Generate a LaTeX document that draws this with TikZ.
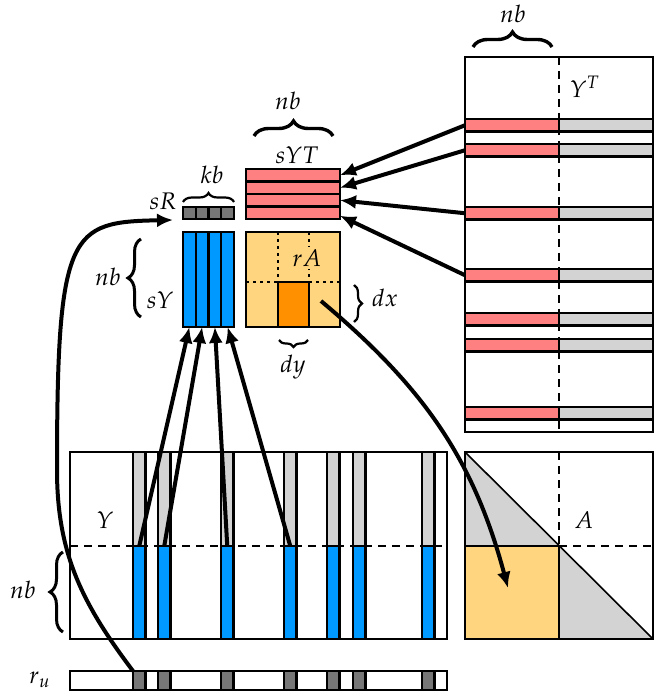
\documentclass[tikz,border=0pt]{standalone}
\usepackage{mathpazo}
\usetikzlibrary{arrows.meta,decorations.pathreplacing,fit,calc}
\definecolor{salmon}{RGB}{255,128,128}
\definecolor{lgray}{RGB}{211,211,211}
\definecolor{skyblue}{RGB}{0,153,255}
\definecolor{dgray}{RGB}{119,119,119}
\definecolor{lorange}{RGB}{255,213,128}
\definecolor{dorange}{RGB}{255,145,0}
\begin{document}
\begin{tikzpicture}[x=0.5pt,y=-0.5pt,
  cell/.style={draw=black, line width=1.1pt, inner sep=0pt, outer sep=0pt},
  frame/.style={draw=black, line width=1.1pt},
  lab/.style={font=\fontsize{12}{14}\selectfont, inner sep=1pt},
  arr/.style={line width=2pt, -{Latex[length=8pt,width=7pt]}},
  brc/.style={decorate, decoration={brace, amplitude=#1}, line width=1.7pt},
  midbrc/.style={decorate, decoration={brace, amplitude=#1}, line width=1.5pt},
  thinbrc/.style={decorate, decoration={brace, amplitude=#1}, line width=1.1pt},
  dashln/.style={line width=1pt, dash pattern=on 4pt off 3pt},
  dotln/.style={line width=1pt, dash pattern=on 1.5pt off 2pt}
]
\useasboundingbox (0,0) rectangle (670,694);

% ---------- Y^T matrix ----------
\node[cell, fit={(465,57) (653,432)}] (YT) {};
\foreach \t [count=\i] in {119,144,207,269,313,339,407}{
  \node[cell, fill=salmon, fit={(465,\t) (559,\t+12.5)}] (yt\i) {};
  \node[cell, fill=lgray, fit={(559,\t) (653,\t+12.5)}] (ytg\i) {};
}
\draw[dashln] (559,57) -- (559,432);
\node[lab] (lYT) at (585,87) {$Y^T$};
\draw[brc=7.5pt] (473,47) -- (552,47);
\node[lab] (lnb1) at (513,14) {$nb$};

% ---------- sYT ----------
\foreach \i in {1,2,3,4}{
  \node[cell, fill=salmon, fit={(246,169+12.5*\i-12.5) (340,169+12.5*\i)}] (syt\i) {};
}
\draw[brc=7.5pt] (254,136) -- (333,136);
\node[lab] (lnb2) at (288,101) {$nb$};
\node[lab] (lsYT) at (297,155) {$sYT$};

% ---------- sR ----------
\foreach \i in {1,2,3,4}{
  \node[cell, fill=dgray, fit={(183+12.75*\i-12.75,207) (183+12.75*\i,219)}] (sr\i) {};
}
\coordinate (sR) at (183,213);
\draw[thinbrc=4.5pt] (183,202) -- (234,202);
\node[lab] (lkb) at (212,175) {$kb$};
\node[lab] (lsR) at (163,201) {$sR$};

% ---------- sY ----------
\foreach \i in {1,2,3,4}{
  \node[cell, fill=skyblue, fit={(183+12.75*\i-12.75,232) (183+12.75*\i,327)}] (sy\i) {};
}
\draw[midbrc=6.5pt] (141,317) -- (141,239);
\node[lab] (lnb3) at (108,277) {$nb$};
\node[lab] (lsY) at (160,300) {$sY$};

% ---------- rA ----------
\node[cell, fill=lorange, fit={(246,232) (340,327)}] (rA) {};
\draw[dotln] (278,232) -- (278,282);
\draw[dotln] (309,232) -- (309,282);
\draw[dotln] (246,282) -- (340,282);
\node[cell, fill=dorange, fit={(278,282) (309,327)}] (ob) {};
\node[lab, fill=lorange] (lrA) at (307,258) {$rA$};
\draw[thinbrc=4pt] (354,285) -- (354,322);
\node[lab] (ldx) at (385,298) {$dx$};
\draw[thinbrc=3.5pt] (308,340) -- (279,340);
\node[lab] (ldy) at (293,367) {$dy$};

% ---------- Y matrix ----------
\node[cell, fit={(70,452) (447,639)}] (Y) {};
\foreach \l [count=\i] in {133,158,221,284,327,353,422}{
  \node[cell, fill=lgray, fit={(\l,452) (\l+12.5,546)}] (yg\i) {};
  \node[cell, fill=skyblue, fit={(\l,546) (\l+12.5,639)}] (yb\i) {};
}
\draw[dashln] (70,546) -- (447,546);
\node[lab] (lY) at (105,520) {$Y$};
\draw[midbrc=6.5pt] (63,632) -- (63,552);
\node[lab] (lnb4) at (23,590) {$nb$};

% ---------- r_u ----------
\node[cell, fit={(70,671) (447,690)}] (ru) {};
\foreach \l [count=\i] in {133,158,221,284,327,353,422}{
  \node[cell, fill=dgray, fit={(\l,671) (\l+12.5,690)}] (ru\i) {};
}
\node[lab] (lru) at (40,680) {$r_u$};

% ---------- A matrix ----------
\node[cell, fit={(465,452) (653,639)}] (A) {};
\fill[lgray] (465,452) -- (465,639) -- (653,639) -- cycle;
\node[cell, fill=lorange, fit={(465,546) (559,639)}] (Asq) {};
\draw[line width=0.8pt] (465,452) -- (653,639);
\draw[frame] (465,452) rectangle (653,639);
\draw[dashln] (559,452) -- (559,546);
\draw[dashln] (559,546) -- (653,546);
\node[lab] (lA) at (584,520) {$A$};

% ---------- arrows ----------
\draw[arr] (yt1.west) -- (syt1.east);
\draw[arr] (yt2.west) -- (syt2.east);
\draw[arr] (yt3.west) -- (syt3.east);
\draw[arr] (yt4.west) -- ($(syt4.east)+(0,3)$);

\draw[arr] (yb1.north) -- (sy1.south);
\draw[arr] (yb2.north) -- (sy2.south);
\draw[arr] (yb3.north) -- (sy3.south);
\draw[arr] (yb4.north) -- (sy4.south);

\coordinate (ruBend) at (57,470);
\draw[arr] (ru1.north west) to[out=127,in=-90] (ruBend)
  .. controls (57,230) and (70,222) .. ($(sR)+(-10,7)$);

\coordinate (rAsrc) at (321,301);
\coordinate (Adst) at (508,588);
\draw[arr] (rAsrc) to[out=-40,in=105] (Adst);
\end{tikzpicture}
\end{document}
